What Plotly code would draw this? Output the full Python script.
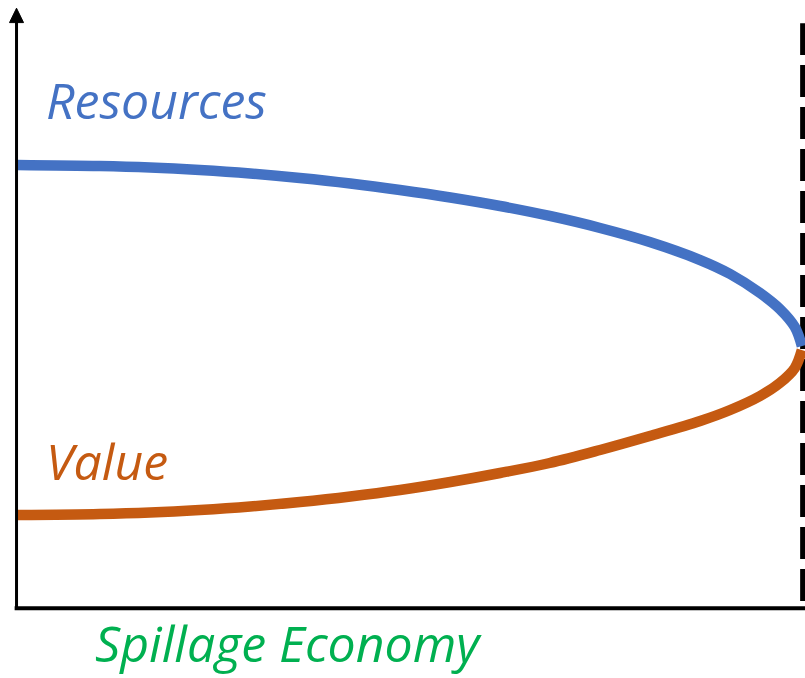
import plotly.graph_objects as go

# points (x: 0-100 along the axis, y: 0-100 up the axis)
curve_x = [0, 10.5, 16.9, 23.2, 29.6, 35.9, 42.3, 48.6, 55.0, 61.3, 67.6,
           74.0, 80.3, 86.7, 90.5, 94.3, 96.8, 98.7, 99.6]
resources_y = [73.67, 73.5, 73.25, 72.83, 72.25, 71.5, 70.58, 69.5, 68.25, 66.83, 65.17,
               63.17, 60.83, 57.83, 55.5, 52.33, 49.67, 46.67, 43.5]
value_y = [15.33, 15.5, 15.75, 16.17, 16.75, 17.5, 18.42, 19.5, 20.83, 22.33, 24.0,
           26.17, 28.5, 31.0, 32.83, 35.17, 37.33, 39.83, 42.83]

limit_x = [99.7, 99.7]
limit_y = [1.0, 97.3]

BLUE = '#4472C4'
ORANGE = '#C55A11'
GREEN = '#00B050'
FONT = 'Open Sans'

fig = go.Figure()
fig.add_trace(go.Scatter(x=limit_x, y=limit_y, mode='lines',
                         line=dict(color='black', width=5, dash='32px,10px')))
fig.add_trace(go.Scatter(x=curve_x, y=resources_y, mode='lines',
                         line=dict(color=BLUE, width=10.5, shape='spline', smoothing=1.0)))
fig.add_trace(go.Scatter(x=curve_x, y=value_y, mode='lines',
                         line=dict(color=ORANGE, width=10.5, shape='spline', smoothing=1.0)))

# axes drawn by hand: plain x line and y line with an arrow head
fig.add_shape(type='line', xref='paper', yref='paper', x0=-0.003, x1=1, y0=-0.002, y1=-0.002,
              line=dict(color='black', width=4))
fig.add_shape(type='line', xref='paper', yref='paper', x0=-0.0006, x1=-0.0006, y0=-0.002, y1=0.978,
              line=dict(color='black', width=3))
fig.add_shape(type='path', xref='paper', yref='paper',
              path='M -0.0095 0.974 L -0.0006 0.998 L 0.0083 0.974 Z',
              fillcolor='black', line=dict(color='black', width=1))

fig.add_annotation(text='<i>Resources</i>', xref='paper', yref='paper', x=0.034, y=0.845,
                   xanchor='left', yanchor='middle', showarrow=False,
                   font=dict(family=FONT, size=50, color=BLUE))
fig.add_annotation(text='<i>Value</i>', xref='paper', yref='paper', x=0.034, y=0.243,
                   xanchor='left', yanchor='middle', showarrow=False,
                   font=dict(family=FONT, size=50, color=ORANGE))
fig.add_annotation(text='<i>Spillage Economy</i>', xref='paper', yref='paper', x=0.097, y=-0.06,
                   xanchor='left', yanchor='middle', showarrow=False,
                   font=dict(family=FONT, size=50, color=GREEN))

fig.update_xaxes(range=[0, 100], visible=False)
fig.update_yaxes(range=[0, 100], visible=False)
fig.update_layout(width=805, height=678, showlegend=False,
                  margin=dict(l=17, r=0, t=7, b=71),
                  plot_bgcolor='white', paper_bgcolor='white')

fig.write_html('out.html', config={'displayModeBar': False},
               post_script="document.body.style.margin='0';")
